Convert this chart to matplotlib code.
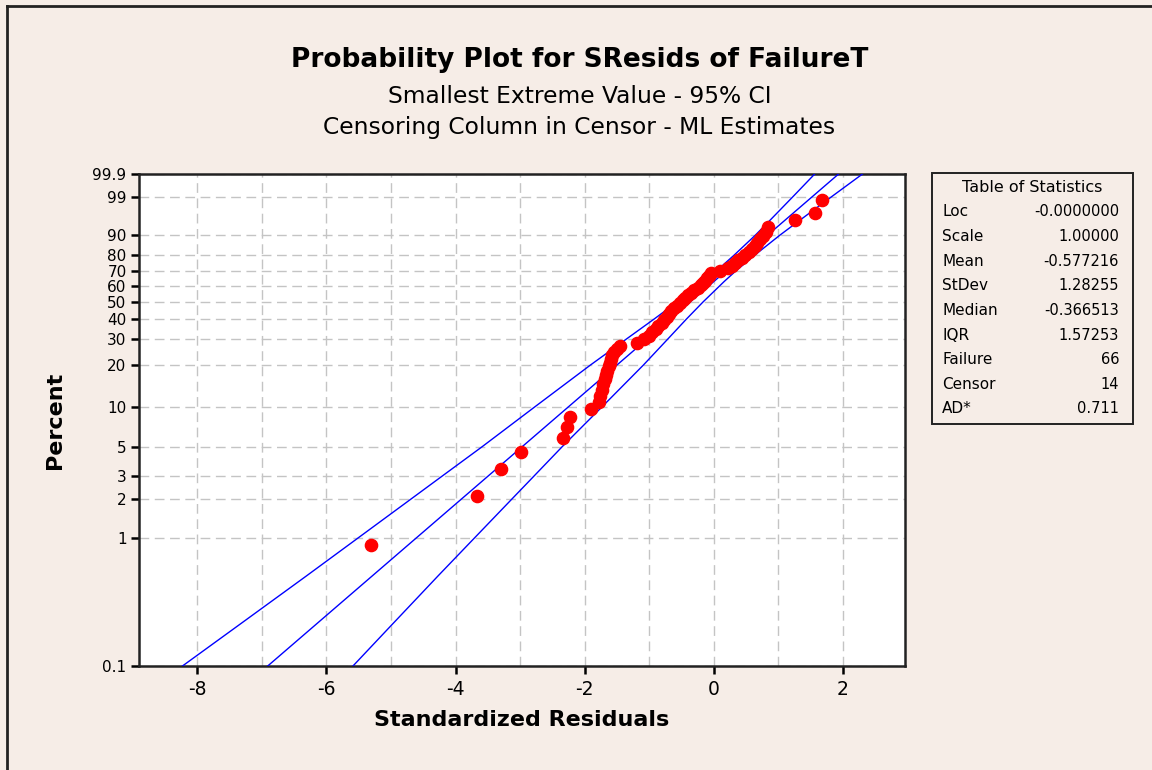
import numpy as np
import matplotlib
matplotlib.use("Agg")
import matplotlib.pyplot as plt
from matplotlib.lines import Line2D
from matplotlib.ticker import FixedLocator, MultipleLocator

plt.rcParams["font.family"] = ["DejaVu Sans"]
plt.rcParams["axes.unicode_minus"] = False

# fitted parameters (from the table of statistics)
loc = 0.0
scale = 1.0

# standardized residuals (failures) and their plotting positions (%)
resid = [-5.31, -3.67, -3.29, -2.99, -2.33, -2.27, -2.23, -1.90,
         -1.78, -1.76, -1.73, -1.71, -1.69, -1.67, -1.65, -1.63, -1.61, -1.59,
         -1.57, -1.54, -1.50, -1.46,
         -1.195, -1.08, -1.00, -0.95, -0.90, -0.86, -0.81, -0.77, -0.73, -0.70,
         -0.66, -0.62, -0.57, -0.53, -0.48, -0.44, -0.40, -0.35, -0.30, -0.25,
         -0.20, -0.17, -0.14, -0.11, -0.07, -0.04, 0.09, 0.22, 0.28, 0.33,
         0.38, 0.43, 0.48, 0.54, 0.59, 0.63, 0.67, 0.72, 0.76, 0.80, 0.84,
         1.25, 1.57, 1.67]
pct = [0.87, 2.11, 3.36, 4.60, 5.85, 7.09, 8.33, 9.58,
       10.82, 12.06, 13.31, 14.55, 15.80, 17.04, 18.28, 19.53, 20.77, 22.01,
       23.26, 24.50, 25.75, 26.99,
       28.2, 29.8, 31.4, 33.1, 34.7, 36.3, 37.9, 39.5, 41.2, 42.8,
       44.4, 46.0, 47.6, 49.3, 50.9, 52.5, 54.1, 55.7, 57.4, 59.0,
       60.6, 62.2, 63.8, 65.5, 67.1, 68.7, 70.3, 71.9, 73.6, 75.2,
       76.8, 78.4, 80.0, 81.7, 83.3, 84.9, 86.5, 88.1, 89.8, 91.4, 93.0,
       95.2, 96.8, 98.7]

# 95% CI band: half width (in residual units) read at these percents
band_pct = [0.1, 0.2, 0.5, 1, 2, 3, 5, 10, 20, 30, 40, 50, 63.2, 70,
            80, 90, 95, 99, 99.9]
band_hw = [1.32, 1.19, 1.02, 0.90, 0.78, 0.71, 0.62, 0.52, 0.41, 0.32,
           0.25, 0.20, 0.16, 0.15, 0.16, 0.19, 0.23, 0.30, 0.37]

ytick_vals = [0.1, 1, 2, 3, 5, 10, 20, 30, 40, 50, 60, 70, 80, 90, 99, 99.9]
ytick_labels = ["0.1", "1", "2", "3", "5", "10", "20", "30", "40", "50",
                "60", "70", "80", "90", "99", "99.9"]

stat_names = ["Loc", "Scale", "Mean", "StDev", "Median", "IQR",
              "Failure", "Censor", "AD*"]
stat_values = ["-0.0000000", "1.00000", "-0.577216", "1.28255", "-0.366513",
               "1.57253", "66", "14", "0.711"]


def sev_fwd(p):
    p = np.clip(np.asarray(p, dtype=float), 1e-6, 100 - 1e-6) / 100.0
    return np.log(-np.log(1.0 - p))


def sev_inv(z):
    return 100.0 * (1.0 - np.exp(-np.exp(np.asarray(z, dtype=float))))


bg = "#F6EDE7"
fig = plt.figure(figsize=(11.52, 7.70), dpi=100, facecolor=bg)
ax = fig.add_axes([0.1207, 0.1351, 0.6649, 0.6390])
ax.set_facecolor("white")
ax.set_yscale("function", functions=(sev_fwd, sev_inv))

# fitted line and CI band
z_band = sev_fwd(band_pct)
x_fit = loc + scale * z_band
hw = np.array(band_hw)
ax.plot(x_fit, band_pct, color="#0000FF", lw=1.0, zorder=3)
ax.plot(x_fit - hw, band_pct, color="#0000FF", lw=1.0, zorder=3)
ax.plot(x_fit + hw, band_pct, color="#0000FF", lw=1.0, zorder=3)

ax.plot(resid, pct, "o", color="#FF0000", ms=8.8, mec="#FF0000", zorder=4)

ax.set_xlim(-8.9, 2.96)
ax.set_ylim(0.1, 99.9)
ax.xaxis.set_major_locator(MultipleLocator(2))
ax.xaxis.set_minor_locator(MultipleLocator(1))
ax.yaxis.set_major_locator(FixedLocator(ytick_vals))
ax.yaxis.set_minor_locator(FixedLocator([]))
ax.set_yticklabels(ytick_labels)

ax.grid(True, which="both", axis="x", color="#C4C4C4", ls=(0, (7, 4)), lw=1.0)
ax.grid(True, which="major", axis="y", color="#C4C4C4", ls=(0, (7, 4)), lw=1.0)
ax.set_axisbelow(True)

ax.tick_params(axis="x", which="major", length=6, width=1.8, labelsize=13.5,
               color="black", pad=4)
ax.tick_params(axis="x", which="minor", length=0)
ax.tick_params(axis="y", length=6, width=1.8, labelsize=11, color="black", pad=3)
for s in ax.spines.values():
    s.set_color("#222222")
    s.set_linewidth(1.8)

ax.set_xlabel("Standardized Residuals", fontsize=16, fontweight="bold", labelpad=8)
ax.set_ylabel("Percent", fontsize=16, fontweight="bold", labelpad=20)

fig.text(0.503, 0.922, "Probability Plot for SResids of FailureT",
         ha="center", va="center", fontsize=19, fontweight="bold")
fig.text(0.503, 0.875, "Smallest Extreme Value - 95% CI",
         ha="center", va="center", fontsize=16.8)
fig.text(0.503, 0.834, "Censoring Column in Censor - ML Estimates",
         ha="center", va="center", fontsize=16.8)

# table of statistics
bx0, bx1 = 932 / 1152, 1133 / 1152
by_top, by_bot = 1 - 173 / 770, 1 - 424 / 770
fig.add_artist(plt.Rectangle((bx0, by_bot), bx1 - bx0, by_top - by_bot,
                             transform=fig.transFigure, fill=False,
                             ec="#222222", lw=1.4))
fig.text((bx0 + bx1) / 2, 1 - 187 / 770, "Table of Statistics",
         ha="center", va="center", fontsize=11.5)
for i, (n, v) in enumerate(zip(stat_names, stat_values)):
    yy = 1 - (212 + i * 24.6) / 770
    fig.text(942 / 1152, yy, n, ha="left", va="center", fontsize=11)
    fig.text(1119 / 1152, yy, v, ha="right", va="center", fontsize=10.5)

# window frame at top and left
fig.add_artist(Line2D([7 / 1152, 7 / 1152], [0, 1 - 6 / 770],
                      transform=fig.transFigure, color="#222222", lw=2))
fig.add_artist(Line2D([7 / 1152, 1], [1 - 6 / 770, 1 - 6 / 770],
                      transform=fig.transFigure, color="#222222", lw=2))

fig.savefig("out.png", dpi=100, facecolor=bg)
